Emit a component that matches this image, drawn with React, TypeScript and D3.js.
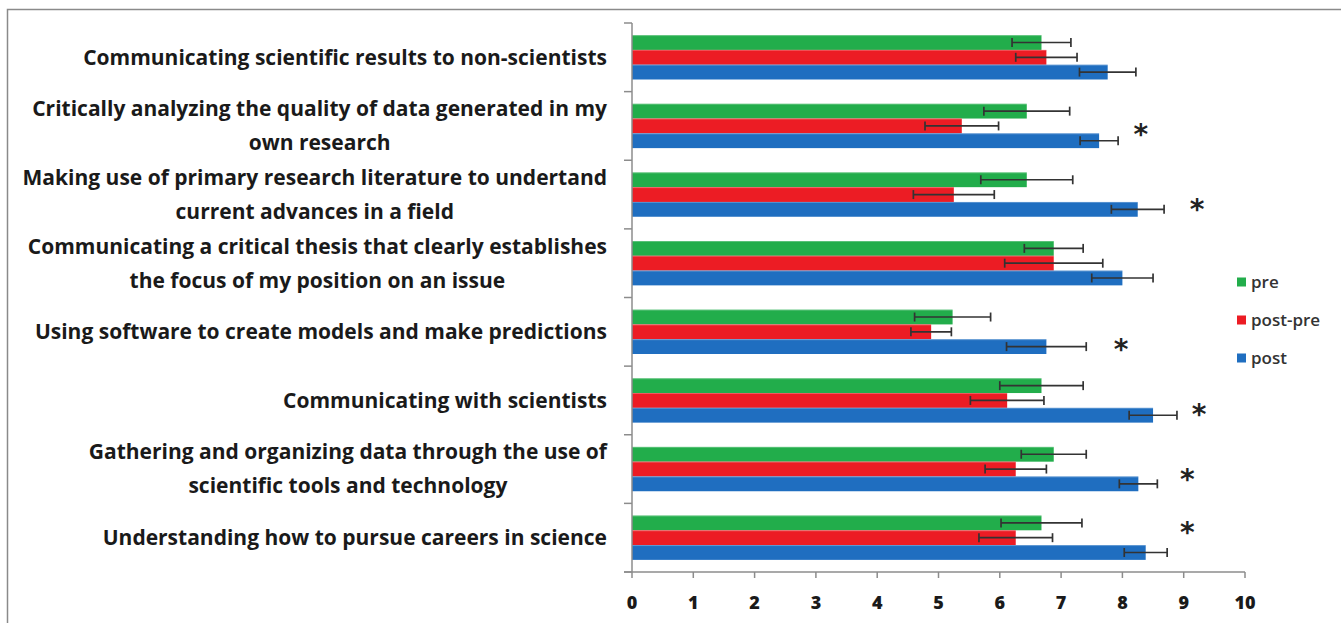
import React, { useEffect, useRef } from "react";
import * as d3 from "d3";

const categories: string[][] = [
  ["Communicating scientific results to non-scientists"],
  ["Critically analyzing the quality of data generated in my", "own research"],
  ["Making use of primary research literature to undertand", "current advances in a field"],
  ["Communicating a critical thesis that clearly establishes", "the focus of my position on an issue"],
  ["Using software to create models and make predictions"],
  ["Communicating with scientists"],
  ["Gathering and organizing data through the use of", "scientific tools and technology"],
  ["Understanding how to pursue careers in science"],
];

const seriesNames = ["pre", "post-pre", "post"];
const seriesColors = ["#22ad4b", "#ec1c24", "#1f6ec0"];

const preValues = [6.68, 6.44, 6.44, 6.88, 5.23, 6.68, 6.88, 6.68];
const postPreValues = [6.76, 5.38, 5.25, 6.88, 4.88, 6.12, 6.26, 6.26];
const postValues = [7.76, 7.62, 8.25, 8.0, 6.76, 8.5, 8.26, 8.38];

const preErrors = [0.48, 0.7, 0.75, 0.48, 0.62, 0.68, 0.53, 0.66];
const postPreErrors = [0.5, 0.6, 0.66, 0.8, 0.33, 0.6, 0.5, 0.6];
const postErrors = [0.46, 0.31, 0.43, 0.5, 0.65, 0.39, 0.31, 0.35];

// significance markers: category index, x in value units, row (in bar units within the group)
const asteriskCats = [1, 2, 4, 5, 6, 7];
const asteriskX = [8.3, 9.22, 7.98, 9.25, 9.06, 9.06];
const asteriskRow = [1.92, 2.35, 2.54, 2.3, 2.07, 0.95];

const xTicks = [0, 1, 2, 3, 4, 5, 6, 7, 8, 9, 10];

export default function App() {
  const ref = useRef<SVGSVGElement | null>(null);

  useEffect(() => {
    const svg = d3.select(ref.current);
    svg.selectAll("*").remove();
    const W = 1341, H = 623;
    const font = "'Open Sans', Lato, sans-serif";

    svg.append("rect").attr("x", 0).attr("y", 0).attr("width", W).attr("height", H).attr("fill", "#fff");
    // frame
    svg.append("path").attr("d", `M7.5,${H + 2} V9.5 H${W + 2}`).attr("fill", "none").attr("stroke", "#8a8a8a").attr("stroke-width", 1.5);

    const x = d3.scaleLinear().domain([0, 10]).range([632, 1245]);
    const idx = categories.map((_, i) => String(i));
    const y = d3.scaleBand().domain(idx).range([23, 572]).padding(0);
    const inner = d3.scaleBand().domain(seriesNames).range([0, y.step()]).paddingInner(0).paddingOuter(0.82);

    const values = [preValues, postPreValues, postValues];
    const errors = [preErrors, postPreErrors, postErrors];

    const g = svg.append("g");
    categories.forEach((_, ci) => {
      seriesNames.forEach((s, si) => {
        const y0 = (y(String(ci)) as number) + (inner(s) as number);
        const bh = inner.bandwidth();
        g.append("rect")
          .attr("x", x(0)).attr("y", y0)
          .attr("width", x(values[si][ci]) - x(0)).attr("height", bh)
          .attr("fill", seriesColors[si]);
        g.append("line")
          .attr("x1", x(0)).attr("x2", x(values[si][ci]))
          .attr("y1", y0 + 0.5).attr("y2", y0 + 0.5)
          .attr("stroke", "#ffffff").attr("stroke-opacity", 0.25);
      });
    });

    // error bars
    categories.forEach((_, ci) => {
      seriesNames.forEach((s, si) => {
        const cy = (y(String(ci)) as number) + (inner(s) as number) + inner.bandwidth() / 2;
        const v = values[si][ci], e = errors[si][ci];
        const lo = x(v - e), hi = x(v + e);
        const eg = g.append("g").attr("stroke", "#333").attr("stroke-width", 1.7);
        eg.append("line").attr("x1", lo).attr("x2", hi).attr("y1", cy).attr("y2", cy);
        eg.append("line").attr("x1", lo).attr("x2", lo).attr("y1", cy - 4.5).attr("y2", cy + 4.5);
        eg.append("line").attr("x1", hi).attr("x2", hi).attr("y1", cy - 4.5).attr("y2", cy + 4.5);
      });
    });

    // axes
    const axCol = "#8c8c8c";
    svg.append("line").attr("x1", x(0)).attr("x2", x(0)).attr("y1", 23).attr("y2", 572).attr("stroke", axCol).attr("stroke-width", 1.5);
    svg.append("line").attr("x1", x(0) - 8).attr("x2", x(10)).attr("y1", 572).attr("y2", 572).attr("stroke", axCol).attr("stroke-width", 1.5);
    const bounds = idx.map((d) => y(d) as number).concat([572]);
    bounds.forEach((b) => {
      svg.append("line").attr("x1", x(0) - 8).attr("x2", x(0)).attr("y1", b).attr("y2", b).attr("stroke", axCol).attr("stroke-width", 1.5);
    });
    xTicks.forEach((t) => {
      svg.append("line").attr("x1", x(t)).attr("x2", x(t)).attr("y1", 572).attr("y2", 578).attr("stroke", axCol).attr("stroke-width", 1.5);
      svg.append("text").attr("x", x(t)).attr("y", 609).attr("text-anchor", "middle")
        .attr("font-family", font).attr("font-weight", 800).attr("font-size", 18).attr("fill", "#1a1a1a").text(String(t));
    });

    // category labels: font size chosen so the longest line spans the label column
    const labelRight = 607;
    const labelLeft = 26;
    const lineGap = 34;
    const probe = svg.append("text").attr("font-family", font).attr("font-weight", 700).attr("font-size", 20).text(categories[1][0]);
    const probeW = (probe.node() as SVGTextElement).getComputedTextLength();
    probe.remove();
    const fs = Math.min(21, (20 * (labelRight - labelLeft - 2)) / probeW);
    categories.forEach((lines, ci) => {
      const cy = (y(String(ci)) as number) + y.bandwidth() / 2;
      const n = lines.length;
      const first = svg.append("text")
        .attr("x", labelRight).attr("y", cy - ((n - 1) * lineGap) / 2)
        .attr("dy", "0.35em").attr("text-anchor", "end")
        .attr("font-family", font).attr("font-weight", 700).attr("font-size", fs).attr("fill", "#1a1a1a")
        .text(lines[0]);
      const w = (first.node() as SVGTextElement).getComputedTextLength();
      for (let li = 1; li < n; li++) {
        svg.append("text")
          .attr("x", labelRight - w / 2).attr("y", cy - ((n - 1) * lineGap) / 2 + li * lineGap)
          .attr("dy", "0.35em").attr("text-anchor", "middle")
          .attr("font-family", font).attr("font-weight", 700).attr("font-size", fs).attr("fill", "#1a1a1a")
          .text(lines[li]);
      }
    });

    // asterisks
    asteriskCats.forEach((ci, k) => {
      const top = (y(String(ci)) as number) + (inner(seriesNames[0]) as number);
      const cy = top + asteriskRow[k] * inner.bandwidth();
      svg.append("text").attr("x", x(asteriskX[k])).attr("y", cy + 12).attr("text-anchor", "middle")
        .attr("font-family", "'DejaVu Sans', sans-serif").attr("font-weight", 700).attr("font-size", 28).attr("fill", "#222")
        .text("*");
    });

    // legend
    const legY = [282, 320, 358];
    seriesNames.forEach((s, si) => {
      svg.append("rect").attr("x", 1237).attr("y", legY[si] - 4.5).attr("width", 9).attr("height", 9).attr("fill", seriesColors[si]);
      svg.append("text").attr("x", 1251).attr("y", legY[si]).attr("dy", "0.35em")
        .attr("font-family", font).attr("font-weight", 600).attr("font-size", 17).attr("fill", "#333").text(s);
    });
  }, []);

  return (
    <div style={{ position: "absolute", left: 0, top: 0 }}>
      <svg ref={ref} width={1341} height={623} style={{ display: "block" }} />
    </div>
  );
}
